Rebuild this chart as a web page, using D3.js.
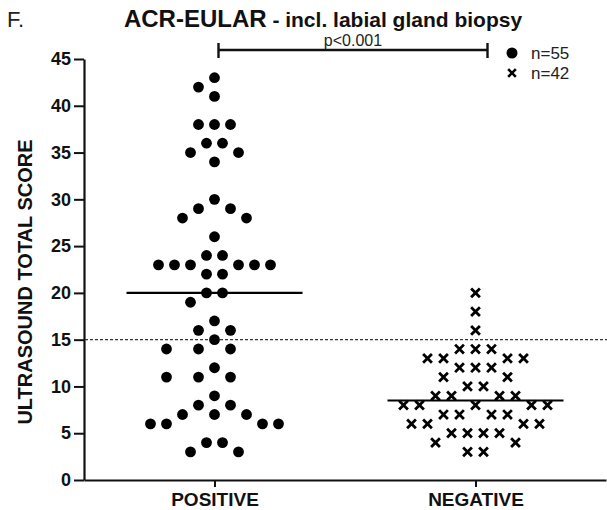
<!DOCTYPE html>
<html>
<head>
<meta charset="utf-8">
<script src="https://cdn.jsdelivr.net/npm/d3@7"></script>
<style>
  body { margin: 0; background: #fff; }
  svg { display: block; font-family: "Liberation Sans", Arial, sans-serif; }
</style>
</head>
<body>
<div id="chart"></div>
<script>
// values
const positive = [43, 42, 41, 38, 38, 38, 36, 36, 35, 35, 34, 30, 29, 29, 28, 28, 26, 24, 24,
  23, 23, 23, 23, 23, 23, 22, 22, 20, 20, 19, 17, 16, 16, 15, 14, 14, 14, 12, 11, 11, 11,
  9, 8, 8, 7, 7, 7, 6, 6, 6, 6, 4, 4, 3, 3];
const negative = [20, 18, 16, 14, 14, 14, 13, 13, 13, 13, 12, 12, 12, 11, 11, 10, 10,
  9, 9, 9, 9, 8, 8, 8, 8, 8, 7, 7, 7, 7, 6, 6, 6, 6, 5, 5, 5, 5, 4, 4, 3, 3];
const groups = ["POSITIVE", "NEGATIVE"];
const yTicks = [0, 5, 10, 15, 20, 25, 30, 35, 40, 45];
const cutoff = 15;
const legendLabels = ["n=55", "n=42"];
const pLabel = "p<0.001";

const width = 607;
const height = 510;
const FONT = '"Liberation Sans", Arial, sans-serif';

const svg = d3.select("#chart").append("svg")
  .attr("width", width)
  .attr("height", height);

const y = d3.scaleLinear().domain([0, 45]).range([480, 59]);
const x = d3.scalePoint().domain(groups).range([84, 606]).padding(0.5);

// beeswarm: rows of equal value, try symmetric / shifted layouts on a half-step grid
const swarm = (values, cx) => {
  const unit = 8;
  const placed = [];
  const out = [];
  const hits = (px, py) => placed.some(p =>
    ((p.x - px) / 16) ** 2 + ((p.y - py) / 12.3) ** 2 < 0.99);
  const rows = d3.groups(values, d => d).sort((a, b) => b[0] - a[0]);
  rows.forEach(([v, arr]) => {
    const n = arr.length;
    const py = y(v);
    const base = d3.range(n).map(k => (k - (n - 1) / 2) * 2);
    let best = null;
    for (let s = -10; s <= 10; s++) {
      for (let g = 0; g <= 10; g++) {
        const pos = base.map(b => b + s + (b < 0 ? -g : b > 0 ? g : 0));
        if (pos.some(u => hits(u * unit, py))) continue;
        const cost = d3.sum(pos, Math.abs) + 3 * Math.abs(s) + (s > 0 ? 0.1 : 0);
        if (!best || cost < best.cost) best = { pos, cost };
      }
    }
    best.pos.forEach(u => {
      placed.push({ x: u * unit, y: py });
      out.push({ v, x: cx + u * unit, y: py });
    });
  });
  return out;
};

// axes
const yAxis = svg.append("g")
  .attr("transform", "translate(84,0)")
  .call(d3.axisLeft(y).tickValues(yTicks).tickSize(10).tickSizeOuter(0).tickPadding(3));
yAxis.select(".domain").attr("stroke", "#111").attr("stroke-width", 2.2);
yAxis.selectAll(".tick line").attr("stroke", "#111").attr("stroke-width", 2);
yAxis.selectAll(".tick text")
  .attr("fill", "#111")
  .style("font", `bold 18px ${FONT}`);

const xAxis = svg.append("g")
  .attr("transform", "translate(0,480)")
  .call(d3.axisBottom(x).tickSize(7).tickSizeOuter(0).tickPadding(6));
xAxis.select(".domain").attr("stroke", "#111").attr("stroke-width", 2.2);
xAxis.selectAll(".tick line").attr("stroke", "#111").attr("stroke-width", 2);
xAxis.selectAll(".tick text")
  .attr("fill", "#111")
  .style("font", `bold 19px ${FONT}`);

// cutoff line
svg.append("line")
  .attr("x1", 85).attr("x2", width)
  .attr("y1", y(cutoff)).attr("y2", y(cutoff))
  .attr("stroke", "#333")
  .attr("stroke-width", 1.3)
  .attr("stroke-dasharray", "3,2");

// points
const posPts = swarm(positive, x("POSITIVE"));
const negPts = swarm(negative, x("NEGATIVE"));

svg.append("g").selectAll("circle")
  .data(posPts)
  .join("circle")
  .attr("cx", d => d.x)
  .attr("cy", d => d.y)
  .attr("r", 5.4)
  .attr("fill", "#000");

const cross = d3.symbol(d3.symbolX).size(52);
svg.append("g").selectAll("path")
  .data(negPts)
  .join("path")
  .attr("transform", d => `translate(${d.x},${d.y})`)
  .attr("d", cross)
  .attr("fill", "none")
  .attr("stroke", "#000")
  .attr("stroke-width", 2.8);

// medians
[[positive, "POSITIVE"], [negative, "NEGATIVE"]].forEach(([vals, g]) => {
  const m = d3.median(vals);
  svg.append("line")
    .attr("x1", x(g) - 88).attr("x2", x(g) + 88)
    .attr("y1", y(m)).attr("y2", y(m))
    .attr("stroke", "#000")
    .attr("stroke-width", 2.2);
});

// significance bracket
const bracket = svg.append("g").attr("stroke", "#111").attr("stroke-width", 2.4);
bracket.append("line").attr("x1", x("POSITIVE") + 4).attr("x2", x("NEGATIVE") + 12)
  .attr("y1", 50).attr("y2", 50);
[x("POSITIVE") + 4, x("NEGATIVE") + 12].forEach(px => {
  bracket.append("line").attr("x1", px).attr("x2", px).attr("y1", 43).attr("y2", 58);
});
svg.append("text")
  .attr("x", (x("POSITIVE") + x("NEGATIVE")) / 2 + 8)
  .attr("y", 46)
  .attr("text-anchor", "middle")
  .attr("fill", "#222")
  .style("font", `16px ${FONT}`)
  .text(pLabel);

// legend
const legend = svg.append("g").attr("transform", "translate(512,53)");
legend.append("circle").attr("r", 5.5).attr("fill", "#000");
legend.append("path")
  .attr("transform", "translate(0,20)")
  .attr("d", d3.symbol(d3.symbolX).size(40))
  .attr("fill", "none").attr("stroke", "#000").attr("stroke-width", 2.6);
legend.selectAll("text")
  .data(legendLabels)
  .join("text")
  .attr("x", 19)
  .attr("y", (d, i) => i * 20 + 6)
  .attr("fill", "#222")
  .style("font", `17px ${FONT}`)
  .text(d => d);

// titles
svg.append("text")
  .attr("x", 7).attr("y", 27)
  .attr("fill", "#222")
  .style("font", `22px ${FONT}`)
  .text("F.");

const title = svg.append("text")
  .attr("x", 323).attr("y", 27)
  .attr("text-anchor", "middle")
  .attr("fill", "#111");
title.append("tspan").style("font", `bold 24px ${FONT}`).text("ACR-EULAR");
title.append("tspan").style("font", `bold 21px ${FONT}`).text(" - incl. labial gland biopsy");

svg.append("text")
  .attr("transform", "translate(32,282) rotate(-90)")
  .attr("text-anchor", "middle")
  .attr("fill", "#111")
  .style("font", `bold 20px ${FONT}`)
  .text("ULTRASOUND TOTAL SCORE");
</script>
</body>
</html>
